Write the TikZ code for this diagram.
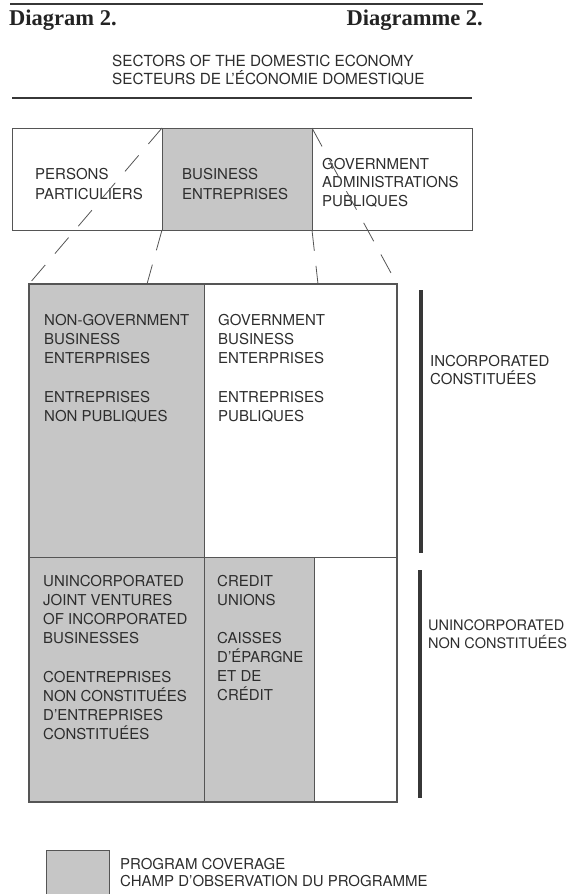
\documentclass[tikz,border=0pt]{standalone}
\usepackage{fontspec}
\setmainfont{TeX Gyre Heros}
\newfontfamily\headfont{Liberation Serif}
\usetikzlibrary{positioning}

\definecolor{covgray}{RGB}{198,198,198}
\definecolor{inkgray}{RGB}{45,45,45}
\definecolor{linegray}{RGB}{85,85,85}
\definecolor{barink}{RGB}{55,55,55}
\definecolor{headink}{RGB}{35,35,35}

\begin{document}
\begin{tikzpicture}[%
            x=1pt, y=-1pt,
            sectorbox/.style={draw=linegray, line width=0.9pt, inner sep=0pt, outer sep=0pt,
                minimum width=150pt, minimum height=102pt, anchor=north west},
            cellbox/.style={draw=linegray, line width=0.9pt, inner sep=0pt, outer sep=0pt,
                anchor=north west},
            boxtext/.style={inner sep=0pt, anchor=north west, align=left, text=inkgray,
                font=\fontsize{15}{19.3}\selectfont},
            sidetext/.style={boxtext, font=\fontsize{14.5}{18}\selectfont},
            headtext/.style={inner sep=0pt, text=headink,
                font=\headfont\bfseries\fontsize{22.5}{26}\selectfont},
            zoomline/.style={draw=linegray, line width=0.8pt, dash pattern=on 21pt off 15pt},
            sidebar/.style={draw=barink, line width=4.5pt},
            ruler/.style={draw=barink, line width=2pt}
        ]
        \useasboundingbox (0,0) rectangle (576,894);
        \clip (0,0) rectangle (576,894);

        \coordinate (topruleW) at (10,4);
        \coordinate (topruleE) at (483,4);
        \coordinate (secruleW) at (12,98);
        \coordinate (secruleE) at (472,98);
        \draw [ruler] (topruleW) -- (topruleE);
        \draw [ruler, line width=2.5pt] (secruleW) -- (secruleE);

        \node [headtext, anchor=base west] (diagEN) at (9,25) {Diagram 2.};
        \node [headtext, anchor=base east] (diagFR) at (483,25) {Diagramme 2.};
        \node [boxtext, font=\fontsize{15.3}{18}\selectfont] (sectors) at (112,54.6)
            {SECTORS OF THE DOMESTIC ECONOMY\\SECTEURS DE L'ÉCONOMIE DOMESTIQUE};

        % sectors of the economy
        \node [sectorbox] (persons) at (12,128) {};
        \node [sectorbox, fill=covgray, right=0pt of persons] (business) {};
        \node [sectorbox, right=0pt of business, minimum width=160pt] (government) {};

        \node [boxtext, font=\fontsize{15}{20}\selectfont] (personstext) at (35,167.6)
            {PERSONS\\PARTICULIERS};
        \node [boxtext, font=\fontsize{15}{20}\selectfont] (businesstext) at (182,167.6)
            {BUSINESS\\ENTREPRISES};
        \node [boxtext, font=\fontsize{15}{18.6}\selectfont] (governmenttext) at (322,157.6)
            {GOVERNMENT\\ADMINISTRATIONS\\PUBLIQUES};

        % business sector in detail
        \node [cellbox, fill=covgray, minimum width=175pt, minimum height=273pt] (nongov) at (29,284) {};
        \node [cellbox, right=0pt of nongov, minimum width=193pt, minimum height=273pt] (govbe) {};
        \node [cellbox, fill=covgray, below=0pt of nongov, minimum width=175pt, minimum height=245pt] (jointv) {};
        \node [cellbox, fill=covgray, right=0pt of jointv, minimum width=110pt, minimum height=245pt] (credit) {};
        \node [cellbox, right=0pt of credit, minimum width=83pt, minimum height=245pt] (rest) {};
        \draw [linegray, line width=1.3pt] (nongov.north west) rectangle (rest.south east);

        \node [boxtext] (nongovtext) at (44,313.6)
            {NON-GOVERNMENT\\BUSINESS\\ENTERPRISES\\[19.5pt]ENTREPRISES\\NON PUBLIQUES};
        \node [boxtext] (govbetext) at (218,313.6)
            {GOVERNMENT\\BUSINESS\\ENTERPRISES\\[19.5pt]ENTREPRISES\\PUBLIQUES};
        \node [boxtext, font=\fontsize{15}{19}\selectfont] (jointvtext) at (43,574.6)
            {UNINCORPORATED\\JOINT VENTURES\\OF INCORPORATED\\BUSINESSES\\[20pt]COENTREPRISES\\NON CONSTITUÉES\\D'ENTREPRISES\\CONSTITUÉES};
        \node [boxtext, font=\fontsize{15}{19}\selectfont] (credittext) at (217,574.6)
            {CREDIT\\UNIONS\\[19pt]CAISSES\\D'ÉPARGNE\\ET DE\\CRÉDIT};

        \coordinate (zoomL) at (147,284);
        \coordinate (zoomR) at (318,284);
        \draw [zoomline] (business.north west) -- (nongov.north west);
        \draw [zoomline] (business.south west) -- (zoomL);
        \draw [zoomline] (business.north east) -- (govbe.north east);
        \draw [zoomline] (business.south east) -- (zoomR);

        % legal form
        \coordinate (incTop) at (421,290);
        \coordinate (incBot) at (421,553);
        \coordinate (unincTop) at (420,570);
        \coordinate (unincBot) at (420,798);
        \draw [sidebar] (incTop) -- (incBot);
        \draw [sidebar] (unincTop) -- (unincBot);
        \node [sidetext, font=\fontsize{15}{18}\selectfont] (inclabel) at (430,354.6) {INCORPORATED\\CONSTITUÉES};
        \node [sidetext] (uninclabel) at (428,619.6) {UNINCORPORATED\\NON CONSTITUÉES};

        % legend
        \node [cellbox, fill=covgray, minimum width=63pt, minimum height=50pt] (legend) at (46,850) {};
        \node [boxtext, font=\fontsize{15}{17}\selectfont] (legendtext) at (120,857.6)
            {PROGRAM COVERAGE\\CHAMP D'OBSERVATION DU PROGRAMME};
    \end{tikzpicture}
\end{document}
